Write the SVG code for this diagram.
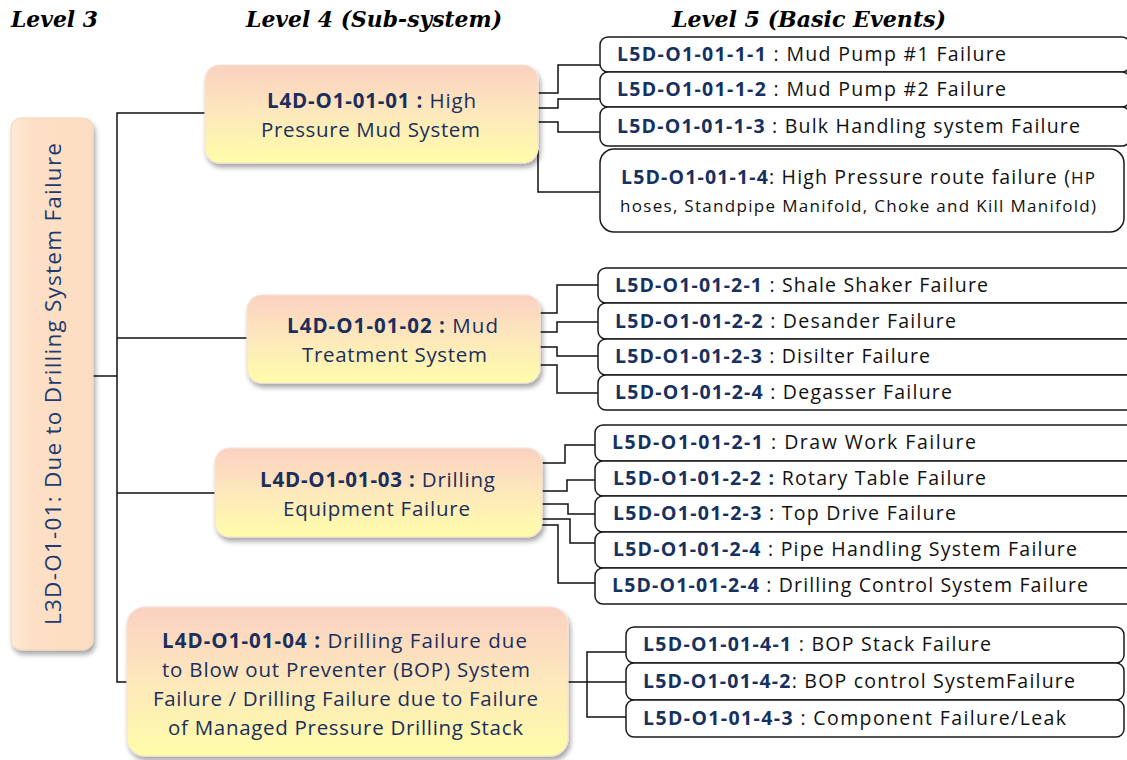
<svg xmlns="http://www.w3.org/2000/svg" width="1127" height="760" viewBox="0 0 1127 760">
  <defs>
    <linearGradient id="l4fill" x1="0" y1="0" x2="0" y2="1">
      <stop offset="0" stop-color="#FAD1C1"/>
      <stop offset="0.45" stop-color="#FDE6BD"/>
      <stop offset="1" stop-color="#FFFDAA"/>
    </linearGradient>
    <linearGradient id="l3fill" x1="0" y1="0" x2="1" y2="0">
      <stop offset="0" stop-color="#FEE9D8"/>
      <stop offset="0.25" stop-color="#FDE0C6"/>
      <stop offset="1" stop-color="#FDDDC2"/>
    </linearGradient>
    <filter id="shadow" x="-10%" y="-10%" width="125%" height="135%">
      <feDropShadow dx="2" dy="4" stdDeviation="2.5" flood-color="#000" flood-opacity="0.35"/>
    </filter>
    <style>
      .hdr { font-family: "DejaVu Serif", "Liberation Serif", serif; font-weight: bold; font-style: italic; font-size: 22px; fill: #000; }
      .l3box { fill: url(#l3fill); stroke: #F1D3B8; stroke-width: 1; filter: url(#shadow); }
      .l4box { fill: url(#l4fill); stroke: #F6E2D4; stroke-width: 1.2; filter: url(#shadow); }
      .l5box { fill: #fff; stroke: #1a1a1a; stroke-width: 1.5; }
      .l3txt { font-family: "Open Sans", "Noto Sans", sans-serif; font-size: 22.5px; fill: #1F3A6E; }
      .l4txt { font-family: "Open Sans", "Noto Sans", sans-serif; font-size: 20.5px; fill: #1B2E5C; }
      .l5txt { font-family: "Open Sans", "Noto Sans", sans-serif; font-size: 19.5px; fill: #111; }
      .id { font-weight: bold; fill: #16315F; }
      .sm { font-size: 17px; }
      .conn path { fill: none; stroke: #111; stroke-width: 1.5; }
    </style>
  </defs>

  <rect width="1127" height="760" fill="#fff"/>

  <!-- column headings -->
  <text class="hdr" x="11" y="27" textLength="87" lengthAdjust="spacingAndGlyphs">Level  3</text>
  <text class="hdr" x="246" y="27" textLength="256" lengthAdjust="spacingAndGlyphs">Level 4  (Sub-system)</text>
  <text class="hdr" x="672" y="27" textLength="274" lengthAdjust="spacingAndGlyphs">Level  5  (Basic Events)</text>

  <!-- connectors -->
  <g id="connectors" class="conn">
    <!-- level 3 to level 4 trunk -->
    <path d="M93,376 H117"/>
    <path d="M205,113 H117 V682 H127"/>
    <path d="M117,338 H247"/>
    <path d="M117,493 H215"/>
    <!-- L4D-O1-01-01 branches -->
    <path d="M538,93 H558 V65 H600"/>
    <path d="M538,108 H558 V99 H600"/>
    <path d="M538,122 H558 V132 H600"/>
    <path d="M538,150 V192 H600"/>
    <!-- L4D-O1-01-02 branches -->
    <path d="M540,313 H557 V285 H598"/>
    <path d="M540,332 H557 V322 H598"/>
    <path d="M540,347 H557 V356 H598"/>
    <path d="M540,365 H557 V393 H598"/>
    <!-- L4D-O1-01-03 branches -->
    <path d="M542,463 H565 V445 H595"/>
    <path d="M542,491 H567 V480 H595"/>
    <path d="M542,504 H568 V514 H595"/>
    <path d="M542,519 H570 V543 H595"/>
    <path d="M542,525 H558 V583 H595"/>
    <!-- L4D-O1-01-04 branches -->
    <path d="M568,682 H626"/>
    <path d="M626,652 H587 V717 H626"/>
  </g>

  <!-- level 3 node -->
  <g id="l3-o1-01">
    <rect class="l3box" x="11" y="118" width="82" height="532" rx="10"/>
    <text class="l3txt" transform="translate(61,625) rotate(-90)" x="0" y="0" textLength="482" lengthAdjust="spacing">L3D-O1-01:  Due to Drilling System  Failure</text>
  </g>

  <!-- level 4 nodes -->
  <g id="l4-01">
    <rect class="l4box" x="205" y="65" width="333" height="98" rx="15"/>
    <text class="l4txt" x="267" y="108" textLength="209" lengthAdjust="spacing"><tspan font-weight="bold">L4D-O1-01-01 :</tspan> High</text>
    <text class="l4txt" x="261" y="137" textLength="219" lengthAdjust="spacing">Pressure Mud System</text>
  </g>
  <g id="l4-02">
    <rect class="l4box" x="247" y="295" width="293" height="88" rx="15"/>
    <text class="l4txt" x="287" y="333" textLength="211" lengthAdjust="spacing"><tspan font-weight="bold">L4D-O1-01-02 :</tspan>  Mud</text>
    <text class="l4txt" x="302" y="362" textLength="185" lengthAdjust="spacing">Treatment System</text>
  </g>
  <g id="l4-03">
    <rect class="l4box" x="215" y="448" width="327" height="89" rx="15"/>
    <text class="l4txt" x="260" y="487" textLength="235" lengthAdjust="spacing"><tspan font-weight="bold">L4D-O1-01-03 :</tspan> Drilling</text>
    <text class="l4txt" x="283" y="516" textLength="187" lengthAdjust="spacing">Equipment  Failure</text>
  </g>
  <g id="l4-04">
    <rect class="l4box" x="127" y="607" width="441" height="149" rx="18"/>
    <text class="l4txt" x="162" y="648" textLength="365" lengthAdjust="spacing"><tspan font-weight="bold">L4D-O1-01-04 :</tspan>   Drilling Failure due</text>
    <text class="l4txt" x="162" y="677" textLength="368" lengthAdjust="spacing">to Blow out Preventer (BOP) System</text>
    <text class="l4txt" x="153" y="706" textLength="385" lengthAdjust="spacing">Failure / Drilling Failure due to Failure</text>
    <text class="l4txt" x="168" y="735" textLength="355" lengthAdjust="spacing">of Managed Pressure Drilling Stack</text>
  </g>

  <!-- level 5 nodes: high pressure mud system -->
  <g id="l5-1-1">
    <rect class="l5box" x="600" y="37" width="530" height="35" rx="8"/>
    <text class="l5txt" x="617" y="61" textLength="389" lengthAdjust="spacing"><tspan class="id">L5D-O1-01-1-1</tspan> : Mud  Pump #1 Failure</text>
  </g>
  <g id="l5-1-2">
    <rect class="l5box" x="600" y="72" width="530" height="35" rx="8"/>
    <text class="l5txt" x="617" y="96" textLength="389" lengthAdjust="spacing"><tspan class="id">L5D-O1-01-1-2</tspan> : Mud  Pump #2 Failure</text>
  </g>
  <g id="l5-1-3">
    <rect class="l5box" x="600" y="107" width="530" height="39" rx="8"/>
    <text class="l5txt" x="617" y="133" textLength="463" lengthAdjust="spacing"><tspan class="id">L5D-O1-01-1-3</tspan> : Bulk Handling system Failure</text>
  </g>
  <g id="l5-1-4">
    <rect class="l5box" x="600" y="149" width="524" height="83" rx="14"/>
    <text class="l5txt" x="621" y="184" textLength="474" lengthAdjust="spacing"><tspan class="id">L5D-O1-01-1-4</tspan>: High Pressure route failure (<tspan class="sm">HP</tspan></text>
    <text class="l5txt sm" x="620" y="212" textLength="476" lengthAdjust="spacing">hoses, Standpipe Manifold, Choke and Kill  Manifold)</text>
  </g>

  <!-- level 5 nodes: mud treatment system -->
  <g id="l5-2-1">
    <rect class="l5box" x="598" y="268" width="540" height="35" rx="8"/>
    <text class="l5txt" x="615" y="292" textLength="373" lengthAdjust="spacing"><tspan class="id">L5D-O1-01-2-1</tspan> : Shale Shaker Failure</text>
  </g>
  <g id="l5-2-2">
    <rect class="l5box" x="598" y="303" width="540" height="36" rx="8"/>
    <text class="l5txt" x="615" y="328" textLength="341" lengthAdjust="spacing"><tspan class="id">L5D-O1-01-2-2</tspan> : Desander Failure</text>
  </g>
  <g id="l5-2-3">
    <rect class="l5box" x="598" y="339" width="540" height="36" rx="8"/>
    <text class="l5txt" x="615" y="363" textLength="315" lengthAdjust="spacing"><tspan class="id">L5D-O1-01-2-3</tspan> : Disilter Failure</text>
  </g>
  <g id="l5-2-4">
    <rect class="l5box" x="598" y="375" width="540" height="35" rx="8"/>
    <text class="l5txt" x="615" y="399" textLength="337" lengthAdjust="spacing"><tspan class="id">L5D-O1-01-2-4</tspan> : Degasser Failure</text>
  </g>

  <!-- level 5 nodes: drilling equipment -->
  <g id="l5-3-1">
    <rect class="l5box" x="595" y="425" width="545" height="36" rx="8"/>
    <text class="l5txt" x="612" y="449" textLength="364" lengthAdjust="spacing"><tspan class="id">L5D-O1-01-2-1</tspan> :  Draw Work Failure</text>
  </g>
  <g id="l5-3-2">
    <rect class="l5box" x="595" y="461" width="545" height="35" rx="8"/>
    <text class="l5txt" x="613" y="485" textLength="373" lengthAdjust="spacing"><tspan class="id">L5D-O1-01-2-2 :</tspan> Rotary Table Failure</text>
  </g>
  <g id="l5-3-3">
    <rect class="l5box" x="595" y="496" width="545" height="36" rx="8"/>
    <text class="l5txt" x="613" y="520" textLength="343" lengthAdjust="spacing"><tspan class="id">L5D-O1-01-2-3</tspan> : Top Drive Failure</text>
  </g>
  <g id="l5-3-4">
    <rect class="l5box" x="595" y="532" width="545" height="36" rx="8"/>
    <text class="l5txt" x="613" y="556" textLength="464" lengthAdjust="spacing"><tspan class="id">L5D-O1-01-2-4</tspan> : Pipe Handling System Failure</text>
  </g>
  <g id="l5-3-5">
    <rect class="l5box" x="595" y="568" width="545" height="36" rx="8"/>
    <text class="l5txt" x="612" y="592" textLength="476" lengthAdjust="spacing"><tspan class="id">L5D-O1-01-2-4</tspan> : Drilling Control System Failure</text>
  </g>

  <!-- level 5 nodes: BOP / managed pressure drilling -->
  <g id="l5-4-1">
    <rect class="l5box" x="626" y="627" width="498" height="36" rx="8"/>
    <text class="l5txt" x="643" y="651" textLength="348" lengthAdjust="spacing"><tspan class="id">L5D-O1-01-4-1</tspan> : BOP Stack Failure</text>
  </g>
  <g id="l5-4-2">
    <rect class="l5box" x="626" y="663" width="498" height="37" rx="8"/>
    <text class="l5txt" x="643" y="688" textLength="432" lengthAdjust="spacing"><tspan class="id">L5D-O1-01-4-2</tspan>: BOP control  SystemFailure</text>
  </g>
  <g id="l5-4-3">
    <rect class="l5box" x="626" y="700" width="498" height="37" rx="8"/>
    <text class="l5txt" x="643" y="725" textLength="423" lengthAdjust="spacing"><tspan class="id">L5D-O1-01-4-3</tspan> : Component  Failure/Leak</text>
  </g>
</svg>
